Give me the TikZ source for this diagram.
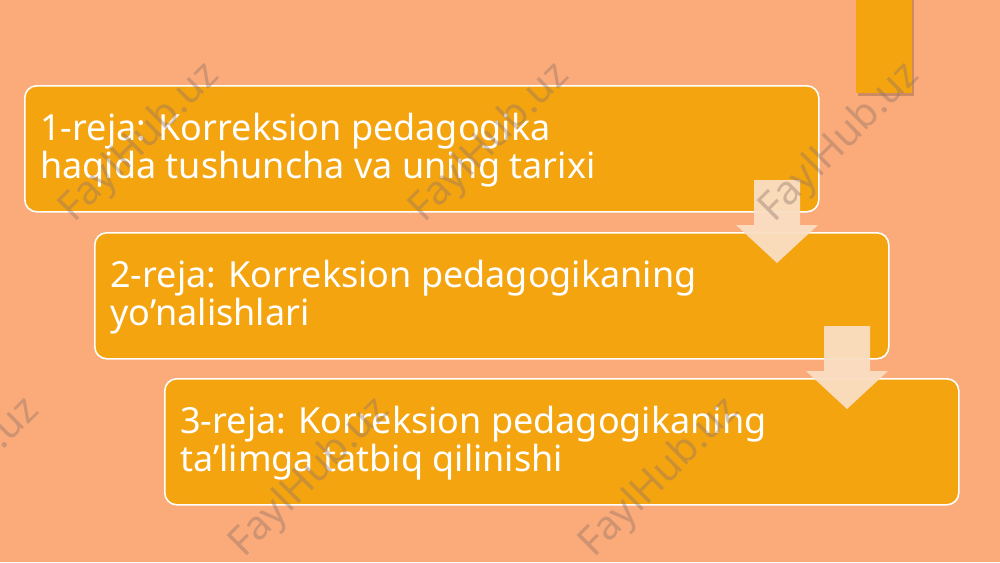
\documentclass[tikz,border=0pt]{standalone}
\usepackage{fontspec}
\setmainfont{Noto Sans}
\usetikzlibrary{calc}
\definecolor{bgc}{RGB}{251,170,121}
\definecolor{boxc}{RGB}{244,164,15}
\definecolor{arrc}{RGB}{250,222,196}
\definecolor{wmc}{RGB}{140,115,105}
\tikzset{
  stepbox/.style={draw=white, line width=0.8pt, fill=boxc, rounded corners=6pt,
    minimum width=397pt, minimum height=63pt, inner sep=0pt, anchor=north west},
  steptext/.style={text=white, align=left, anchor=base west, inner sep=0pt,
    font=\fontsize{18}{18.8}\selectfont},
  blockarrow/.style={fill=arrc, draw=none, fill opacity=0.95},
  wmark/.style={text=wmc, text opacity=0.4, rotate=45, inner sep=0pt,
    font=\bfseries\fontsize{20}{20}\selectfont}
}
\begin{document}
\begin{tikzpicture}[x=0.5pt,y=-0.5pt]
\fill[bgc] (0,0) rectangle (1000,562);
\useasboundingbox (0,0) rectangle (1000,562);
% top-right tab
\fill[black, opacity=0.18] (858,0) rectangle (914,96);
\node[fill=boxc, inner sep=0pt, minimum width=28pt, minimum height=46.5pt, anchor=north west] (tab) at (856,0) {};
% boxes
\node[stepbox] (b1) at (24,85) {};
\node[stepbox] (b2) at (94,232) {};
\node[stepbox] (b3) at (164,378) {};
% texts (anchor at baseline of last line)
\node[steptext] (t1) at (40,178) {1-reja: Korreksion pedagogika\\haqida tushuncha va uning tarixi};
\node[steptext] (t2) at (110,325) {2-reja: Korreksion pedagogikaning\\yo’nalishlari};
\node[steptext] (t3) at (180,471) {3-reja: Korreksion pedagogikaning\\ta’limga tatbiq qilinishi};
% block arrows
\coordinate (a1) at (777,263);
\coordinate (a2) at (847,409);
\foreach \c in {a1,a2}{
  \fill[blockarrow] ($(\c)+(0,0)$) -- ++(-41,-38) -- ++(18,0) -- ++(0,-45) -- ++(46,0) -- ++(0,45) -- ++(18,0) -- cycle;
}
% watermarks
\foreach \x/\y [count=\i] in {140/143,490/143,840/143,-40/478,310/478,660/478}{
  \node[wmark] (w\i) at (\x,\y) {FaylHub.uz};
}
\end{tikzpicture}
\end{document}
